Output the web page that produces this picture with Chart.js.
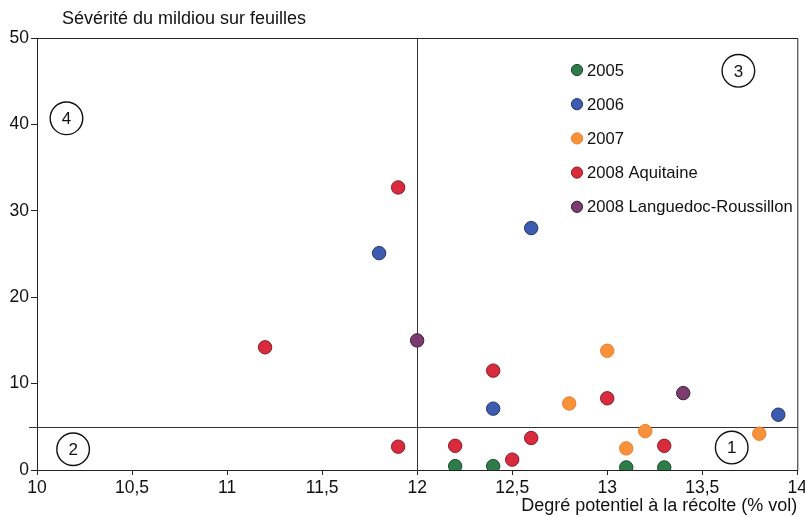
<!DOCTYPE html>
<html><head><meta charset="utf-8">
<script src="https://cdn.jsdelivr.net/npm/chart.js@4/dist/chart.umd.min.js"></script>
<style>html,body{margin:0;padding:0;background:#fff}#wrap{width:805px;height:517px}</style>
</head><body><div id="wrap"><canvas id="c" width="805" height="517"></canvas></div>
<script>
const seriesNames = ['2005', '2006', '2007', '2008 Aquitaine', '2008 Languedoc-Roussillon'];
const seriesColors = ['#2f7c4b', '#3d5caf', '#f8923a', '#d92b3d', '#7b3b70'];
const seriesBorders = ['#1d4a2c', '#22336a', '#f07a28', '#8a1a25', '#3a1c35'];
const x2005 = [12.2, 12.4, 13.1, 13.3];
const y2005 = [0.45, 0.45, 0.3, 0.3];
const x2006 = [11.8, 12.6, 12.4, 13.9];
const y2006 = [25.1, 28.0, 7.1, 6.4];
const x2007 = [12.8, 13.0, 13.1, 13.2, 13.8];
const y2007 = [7.7, 13.8, 2.5, 4.5, 4.2];
const x2008A = [11.2, 11.9, 11.9, 12.2, 12.4, 12.5, 12.6, 13.0, 13.3];
const y2008A = [14.2, 32.7, 2.7, 2.8, 11.5, 1.2, 3.7, 8.3, 2.8];
const x2008LR = [12.0, 13.4];
const y2008LR = [15.0, 8.9];
const xMin = 10, xMax = 14, xStep = 0.5;
const yMin = 0, yMax = 50, yStep = 10;
const thresholdX = 12;
const thresholdY = 5;
const zoneLabels = ['1', '2', '3', '4'];
const zoneX = [13.655, 10.19, 13.69, 10.155];
const zoneY = [2.6, 2.4, 46.2, 40.7];
const yTitle = 'Sévérité du mildiou sur feuilles';
const xTitle = 'Degré potentiel à la récolte (% vol)';

const xs = [x2005, x2006, x2007, x2008A, x2008LR];
const ys = [y2005, y2006, y2007, y2008A, y2008LR];
const FONT = '"Liberation Sans", Arial, sans-serif';

const datasets = seriesNames.map((name, i) => ({
  label: name,
  data: xs[i].map((x, j) => ({x: x, y: ys[i][j]})),
  backgroundColor: seriesColors[i],
  borderColor: seriesBorders[i],
  borderWidth: 1,
  pointRadius: 6.7,
  pointHoverRadius: 6.7
}));

const decor = {
  id: 'decor',
  beforeDatasetsDraw(chart) {
    const {ctx, chartArea: a, scales: {x, y}} = chart;
    ctx.save();
    ctx.strokeStyle = '#222';
    ctx.lineWidth = 1;
    ctx.beginPath();
    ctx.moveTo(a.left, a.top + 0.5); ctx.lineTo(a.right + 0.5, a.top + 0.5);
    ctx.lineTo(a.right + 0.5, a.bottom);
    ctx.stroke();
    const px = Math.round(x.getPixelForValue(thresholdX)) + 0.5;
    const py = Math.round(y.getPixelForValue(thresholdY)) + 0.5;
    ctx.strokeStyle = '#333';
    ctx.beginPath();
    ctx.moveTo(px, a.top); ctx.lineTo(px, a.bottom);
    ctx.moveTo(a.left - 8, py); ctx.lineTo(a.right, py);
    ctx.stroke();
    ctx.restore();
  },
  afterDatasetsDraw(chart) {
    const {ctx, scales: {x, y}} = chart;
    ctx.save();
    ctx.strokeStyle = '#111';
    ctx.lineWidth = 1.4;
    ctx.fillStyle = '#111';
    ctx.font = '17px ' + FONT;
    ctx.textAlign = 'center';
    ctx.textBaseline = 'middle';
    zoneLabels.forEach((lab, i) => {
      const cx = x.getPixelForValue(zoneX[i]);
      const cy = y.getPixelForValue(zoneY[i]);
      ctx.beginPath();
      ctx.arc(cx, cy, 16.3, 0, Math.PI * 2);
      ctx.stroke();
      ctx.fillText(lab, cx, cy + 1);
    });
    ctx.font = '16.6px ' + FONT;
    ctx.textAlign = 'left';
    chart.data.datasets.forEach((ds, i) => {
      const ly = 70 + i * 34.2;
      ctx.beginPath();
      ctx.arc(577, ly, 5.6, 0, Math.PI * 2);
      ctx.fillStyle = ds.backgroundColor;
      ctx.fill();
      ctx.lineWidth = 1;
      ctx.strokeStyle = ds.borderColor;
      ctx.stroke();
      ctx.fillStyle = '#111';
      ctx.fillText(ds.label, 587, ly + 1);
    });
    ctx.font = '18px ' + FONT;
    ctx.textBaseline = 'middle';
    ctx.fillText(yTitle, 62, 19);
    ctx.restore();
  }
};

new Chart(document.getElementById('c'), {
  type: 'scatter',
  data: {datasets},
  options: {
    responsive: false,
    animation: false,
    layout: {padding: {top: 38, right: 5, left: 0, bottom: 0}},
    plugins: {legend: {display: false}, tooltip: {enabled: false}},
    scales: {
      x: {
        type: 'linear', min: xMin, max: xMax,
        border: {display: true, color: '#222', width: 1},
        grid: {drawOnChartArea: false, tickLength: 5, color: '#222'},
        ticks: {stepSize: xStep, color: '#111', padding: 3, maxRotation: 0,
          font: {family: FONT, size: 17.5},
          callback: v => String(v).replace('.', ',')},
        title: {display: true, text: xTitle, align: 'end', color: '#111',
          font: {family: FONT, size: 18}, padding: {top: 0, bottom: 0}},
        afterFit(s) { s.height = 47; s.paddingLeft = 0; s.paddingRight = 0; }
      },
      y: {
        type: 'linear', min: yMin, max: yMax,
        border: {display: true, color: '#222', width: 1},
        grid: {drawOnChartArea: false, tickLength: 6, color: '#222'},
        ticks: {stepSize: yStep, color: '#111', padding: 2,
          font: {family: FONT, size: 17.5}},
        afterFit(s) { s.width = 37; s.paddingTop = 0; s.paddingBottom = 0; }
      }
    }
  },
  plugins: [decor]
});
</script></body></html>
